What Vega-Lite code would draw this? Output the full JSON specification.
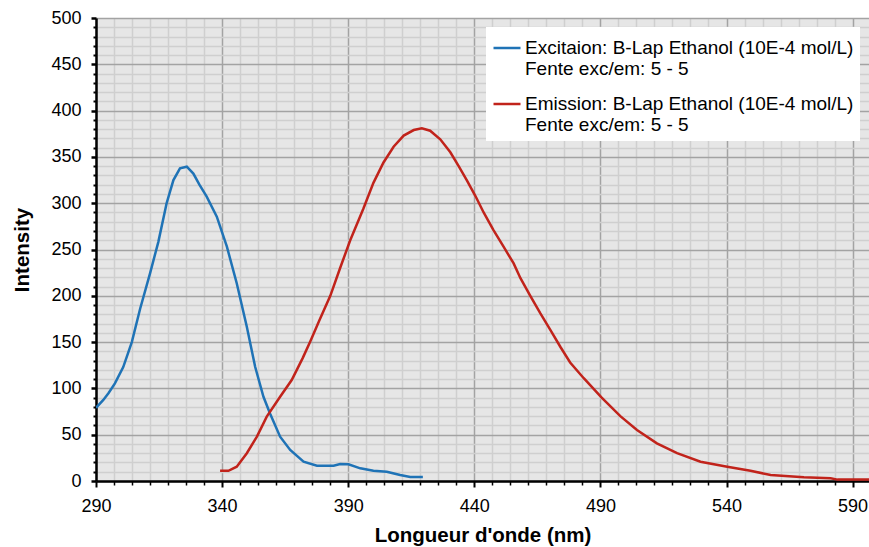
{
  "$schema": "https://vega.github.io/schema/vega-lite/v6.json",
  "width": 773,
  "height": 463,
  "autosize": {"type": "none"},
  "padding": {"left": 96, "top": 18, "right": 0, "bottom": 66},
  "background": "white",
  "config": {
    "view": {"fill": "#e6e6e6", "stroke": null},
    "font": "Liberation Sans"
  },
  "data": {
    "values": [
      {"s": "Excitaion: B-Lap Ethanol (10E-4 mol/L)", "nm": 290, "I": 79},
      {"s": "Excitaion: B-Lap Ethanol (10E-4 mol/L)", "nm": 292.9, "I": 87.5},
      {"s": "Excitaion: B-Lap Ethanol (10E-4 mol/L)", "nm": 295, "I": 95},
      {"s": "Excitaion: B-Lap Ethanol (10E-4 mol/L)", "nm": 297.5, "I": 105.5},
      {"s": "Excitaion: B-Lap Ethanol (10E-4 mol/L)", "nm": 300.8, "I": 123},
      {"s": "Excitaion: B-Lap Ethanol (10E-4 mol/L)", "nm": 304.2, "I": 150},
      {"s": "Excitaion: B-Lap Ethanol (10E-4 mol/L)", "nm": 307.5, "I": 186},
      {"s": "Excitaion: B-Lap Ethanol (10E-4 mol/L)", "nm": 311.4, "I": 224},
      {"s": "Excitaion: B-Lap Ethanol (10E-4 mol/L)", "nm": 314.7, "I": 258},
      {"s": "Excitaion: B-Lap Ethanol (10E-4 mol/L)", "nm": 318, "I": 300},
      {"s": "Excitaion: B-Lap Ethanol (10E-4 mol/L)", "nm": 320.7, "I": 325},
      {"s": "Excitaion: B-Lap Ethanol (10E-4 mol/L)", "nm": 323.3, "I": 337.7},
      {"s": "Excitaion: B-Lap Ethanol (10E-4 mol/L)", "nm": 326, "I": 339.4},
      {"s": "Excitaion: B-Lap Ethanol (10E-4 mol/L)", "nm": 328.6, "I": 332},
      {"s": "Excitaion: B-Lap Ethanol (10E-4 mol/L)", "nm": 331, "I": 320},
      {"s": "Excitaion: B-Lap Ethanol (10E-4 mol/L)", "nm": 333.9, "I": 307},
      {"s": "Excitaion: B-Lap Ethanol (10E-4 mol/L)", "nm": 337.9, "I": 285.4},
      {"s": "Excitaion: B-Lap Ethanol (10E-4 mol/L)", "nm": 341.9, "I": 253},
      {"s": "Excitaion: B-Lap Ethanol (10E-4 mol/L)", "nm": 345.8, "I": 213.5},
      {"s": "Excitaion: B-Lap Ethanol (10E-4 mol/L)", "nm": 349.8, "I": 166.6},
      {"s": "Excitaion: B-Lap Ethanol (10E-4 mol/L)", "nm": 353.1, "I": 123.4},
      {"s": "Excitaion: B-Lap Ethanol (10E-4 mol/L)", "nm": 356.4, "I": 91},
      {"s": "Excitaion: B-Lap Ethanol (10E-4 mol/L)", "nm": 359, "I": 73},
      {"s": "Excitaion: B-Lap Ethanol (10E-4 mol/L)", "nm": 363, "I": 47.8},
      {"s": "Excitaion: B-Lap Ethanol (10E-4 mol/L)", "nm": 367, "I": 33.5},
      {"s": "Excitaion: B-Lap Ethanol (10E-4 mol/L)", "nm": 372.3, "I": 20.8},
      {"s": "Excitaion: B-Lap Ethanol (10E-4 mol/L)", "nm": 377.6, "I": 16.5},
      {"s": "Excitaion: B-Lap Ethanol (10E-4 mol/L)", "nm": 384.2, "I": 16.5},
      {"s": "Excitaion: B-Lap Ethanol (10E-4 mol/L)", "nm": 386.8, "I": 18.4},
      {"s": "Excitaion: B-Lap Ethanol (10E-4 mol/L)", "nm": 390.1, "I": 18},
      {"s": "Excitaion: B-Lap Ethanol (10E-4 mol/L)", "nm": 394.8, "I": 13.7},
      {"s": "Excitaion: B-Lap Ethanol (10E-4 mol/L)", "nm": 400, "I": 11},
      {"s": "Excitaion: B-Lap Ethanol (10E-4 mol/L)", "nm": 405.3, "I": 10},
      {"s": "Excitaion: B-Lap Ethanol (10E-4 mol/L)", "nm": 410.6, "I": 6.5},
      {"s": "Excitaion: B-Lap Ethanol (10E-4 mol/L)", "nm": 414.6, "I": 4.3},
      {"s": "Excitaion: B-Lap Ethanol (10E-4 mol/L)", "nm": 419.6, "I": 4.3},
      {"s": "Emission: B-Lap Ethanol (10E-4 mol/L)", "nm": 339.2, "I": 11},
      {"s": "Emission: B-Lap Ethanol (10E-4 mol/L)", "nm": 342.5, "I": 11},
      {"s": "Emission: B-Lap Ethanol (10E-4 mol/L)", "nm": 345.8, "I": 15.5},
      {"s": "Emission: B-Lap Ethanol (10E-4 mol/L)", "nm": 349.8, "I": 30},
      {"s": "Emission: B-Lap Ethanol (10E-4 mol/L)", "nm": 353.8, "I": 48},
      {"s": "Emission: B-Lap Ethanol (10E-4 mol/L)", "nm": 357.7, "I": 69.5},
      {"s": "Emission: B-Lap Ethanol (10E-4 mol/L)", "nm": 363, "I": 91},
      {"s": "Emission: B-Lap Ethanol (10E-4 mol/L)", "nm": 367.6, "I": 109},
      {"s": "Emission: B-Lap Ethanol (10E-4 mol/L)", "nm": 372, "I": 133},
      {"s": "Emission: B-Lap Ethanol (10E-4 mol/L)", "nm": 375, "I": 151},
      {"s": "Emission: B-Lap Ethanol (10E-4 mol/L)", "nm": 378.5, "I": 173},
      {"s": "Emission: B-Lap Ethanol (10E-4 mol/L)", "nm": 382.9, "I": 200},
      {"s": "Emission: B-Lap Ethanol (10E-4 mol/L)", "nm": 386.8, "I": 230},
      {"s": "Emission: B-Lap Ethanol (10E-4 mol/L)", "nm": 390.8, "I": 260},
      {"s": "Emission: B-Lap Ethanol (10E-4 mol/L)", "nm": 396, "I": 294},
      {"s": "Emission: B-Lap Ethanol (10E-4 mol/L)", "nm": 400, "I": 322},
      {"s": "Emission: B-Lap Ethanol (10E-4 mol/L)", "nm": 404, "I": 344},
      {"s": "Emission: B-Lap Ethanol (10E-4 mol/L)", "nm": 408, "I": 361},
      {"s": "Emission: B-Lap Ethanol (10E-4 mol/L)", "nm": 412, "I": 373},
      {"s": "Emission: B-Lap Ethanol (10E-4 mol/L)", "nm": 416, "I": 379},
      {"s": "Emission: B-Lap Ethanol (10E-4 mol/L)", "nm": 419.2, "I": 381},
      {"s": "Emission: B-Lap Ethanol (10E-4 mol/L)", "nm": 422.5, "I": 378.3},
      {"s": "Emission: B-Lap Ethanol (10E-4 mol/L)", "nm": 426.5, "I": 369},
      {"s": "Emission: B-Lap Ethanol (10E-4 mol/L)", "nm": 430.5, "I": 355},
      {"s": "Emission: B-Lap Ethanol (10E-4 mol/L)", "nm": 433.8, "I": 340},
      {"s": "Emission: B-Lap Ethanol (10E-4 mol/L)", "nm": 437, "I": 325},
      {"s": "Emission: B-Lap Ethanol (10E-4 mol/L)", "nm": 440.4, "I": 308},
      {"s": "Emission: B-Lap Ethanol (10E-4 mol/L)", "nm": 443.7, "I": 290},
      {"s": "Emission: B-Lap Ethanol (10E-4 mol/L)", "nm": 447.6, "I": 271},
      {"s": "Emission: B-Lap Ethanol (10E-4 mol/L)", "nm": 451.6, "I": 253},
      {"s": "Emission: B-Lap Ethanol (10E-4 mol/L)", "nm": 455.6, "I": 235},
      {"s": "Emission: B-Lap Ethanol (10E-4 mol/L)", "nm": 458.3, "I": 219},
      {"s": "Emission: B-Lap Ethanol (10E-4 mol/L)", "nm": 462.2, "I": 200},
      {"s": "Emission: B-Lap Ethanol (10E-4 mol/L)", "nm": 466.2, "I": 181},
      {"s": "Emission: B-Lap Ethanol (10E-4 mol/L)", "nm": 470.2, "I": 163},
      {"s": "Emission: B-Lap Ethanol (10E-4 mol/L)", "nm": 474.1, "I": 145},
      {"s": "Emission: B-Lap Ethanol (10E-4 mol/L)", "nm": 478, "I": 128},
      {"s": "Emission: B-Lap Ethanol (10E-4 mol/L)", "nm": 483.4, "I": 111},
      {"s": "Emission: B-Lap Ethanol (10E-4 mol/L)", "nm": 490.5, "I": 90},
      {"s": "Emission: B-Lap Ethanol (10E-4 mol/L)", "nm": 497.9, "I": 70},
      {"s": "Emission: B-Lap Ethanol (10E-4 mol/L)", "nm": 504.5, "I": 55},
      {"s": "Emission: B-Lap Ethanol (10E-4 mol/L)", "nm": 512.4, "I": 40.7},
      {"s": "Emission: B-Lap Ethanol (10E-4 mol/L)", "nm": 520.4, "I": 30},
      {"s": "Emission: B-Lap Ethanol (10E-4 mol/L)", "nm": 529.7, "I": 20.8},
      {"s": "Emission: B-Lap Ethanol (10E-4 mol/L)", "nm": 540.3, "I": 15.5},
      {"s": "Emission: B-Lap Ethanol (10E-4 mol/L)", "nm": 549.5, "I": 11},
      {"s": "Emission: B-Lap Ethanol (10E-4 mol/L)", "nm": 557.5, "I": 6.5},
      {"s": "Emission: B-Lap Ethanol (10E-4 mol/L)", "nm": 570.7, "I": 4},
      {"s": "Emission: B-Lap Ethanol (10E-4 mol/L)", "nm": 581.3, "I": 2.9},
      {"s": "Emission: B-Lap Ethanol (10E-4 mol/L)", "nm": 584, "I": 1.5},
      {"s": "Emission: B-Lap Ethanol (10E-4 mol/L)", "nm": 597, "I": 1.5}
    ]
  },
  "mark": {"type": "line", "strokeWidth": 2.5, "clip": true, "interpolate": "linear"},
  "encoding": {
    "x": {
      "field": "nm",
      "type": "quantitative",
      "scale": {"domain": [290, 596.5], "nice": false, "zero": false},
      "axis": {
        "title": "Longueur d'onde (nm)",
        "titleFontSize": 20.5,
        "titleFontWeight": "bold",
        "titleColor": "black",
        "titlePadding": 10,
        "values": [290, 297.143, 304.286, 311.429, 318.571, 325.714, 332.857, 340, 347.143, 354.286, 361.429, 368.571, 375.714, 382.857, 390, 397.143, 404.286, 411.429, 418.571, 425.714, 432.857, 440, 447.143, 454.286, 461.429, 468.571, 475.714, 482.857, 490, 497.143, 504.286, 511.429, 518.571, 525.714, 532.857, 540, 547.143, 554.286, 561.429, 568.571, 575.714, 582.857, 590],
        "format": ".0f",
        "labelExpr": "(datum.value - 290) % 50 == 0 ? datum.label : ''",
        "labelOverlap": false,
        "labelFlush": false,
        "labelBound": false,
        "labelFontSize": 18,
        "labelColor": "black",
        "labelPadding": 10,
        "domainColor": "black",
        "domainWidth": 2.5,
        "tickColor": "black",
        "tickWidth": {"condition": {"test": "(datum.value - 290) % 50 == 0", "value": 2}, "value": 1.5},
        "tickSize": {"condition": {"test": "(datum.value - 290) % 50 == 0", "value": 6}, "value": 4},
        "grid": true,
        "gridColor": {"condition": {"test": "(datum.value - 290) % 50 == 0", "value": "#a3a3a3"}, "value": "#cfcfcf"},
        "gridWidth": 1.5
      }
    },
    "y": {
      "field": "I",
      "type": "quantitative",
      "scale": {"domain": [0, 500], "nice": false},
      "axis": {
        "title": "Intensity",
        "titleFontSize": 20.5,
        "titleFontWeight": "bold",
        "titleColor": "black",
        "titlePadding": 18,
        "values": [0, 10, 20, 30, 40, 50, 60, 70, 80, 90, 100, 110, 120, 130, 140, 150, 160, 170, 180, 190, 200, 210, 220, 230, 240, 250, 260, 270, 280, 290, 300, 310, 320, 330, 340, 350, 360, 370, 380, 390, 400, 410, 420, 430, 440, 450, 460, 470, 480, 490, 500],
        "labelExpr": "datum.value % 50 == 0 ? datum.label : ''",
        "labelOverlap": false,
        "labelFlush": false,
        "labelFontSize": 18,
        "labelColor": "black",
        "labelPadding": 10,
        "domainColor": "black",
        "domainWidth": 2.5,
        "tickColor": "black",
        "tickWidth": {"condition": {"test": "datum.value % 50 == 0", "value": 2.5}, "value": 2},
        "tickSize": {"condition": {"test": "datum.value % 50 == 0", "value": 5}, "value": 3},
        "grid": true,
        "gridColor": {"condition": {"test": "datum.value % 50 == 0", "value": "#a3a3a3"}, "value": "#cfcfcf"},
        "gridWidth": 1.5
      }
    },
    "color": {
      "field": "s",
      "type": "nominal",
      "scale": {
        "domain": ["Excitaion: B-Lap Ethanol (10E-4 mol/L)", "Emission: B-Lap Ethanol (10E-4 mol/L)"],
        "range": ["#1f73b6", "#c1231b"]
      },
      "legend": {
        "title": null,
        "orient": "none",
        "legendX": 390,
        "legendY": 9,
        "fillColor": "white",
        "strokeColor": null,
        "padding": 6,
        "symbolType": "stroke",
        "symbolSize": 729,
        "symbolStrokeWidth": 2.5,
        "labelFontSize": 19,
        "labelColor": "black",
        "labelLimit": 0,
        "labelOffset": 3,
        "rowPadding": 10,
        "labelExpr": "[datum.label, 'Fente exc/em: 5 - 5']"
      }
    }
  }
}
